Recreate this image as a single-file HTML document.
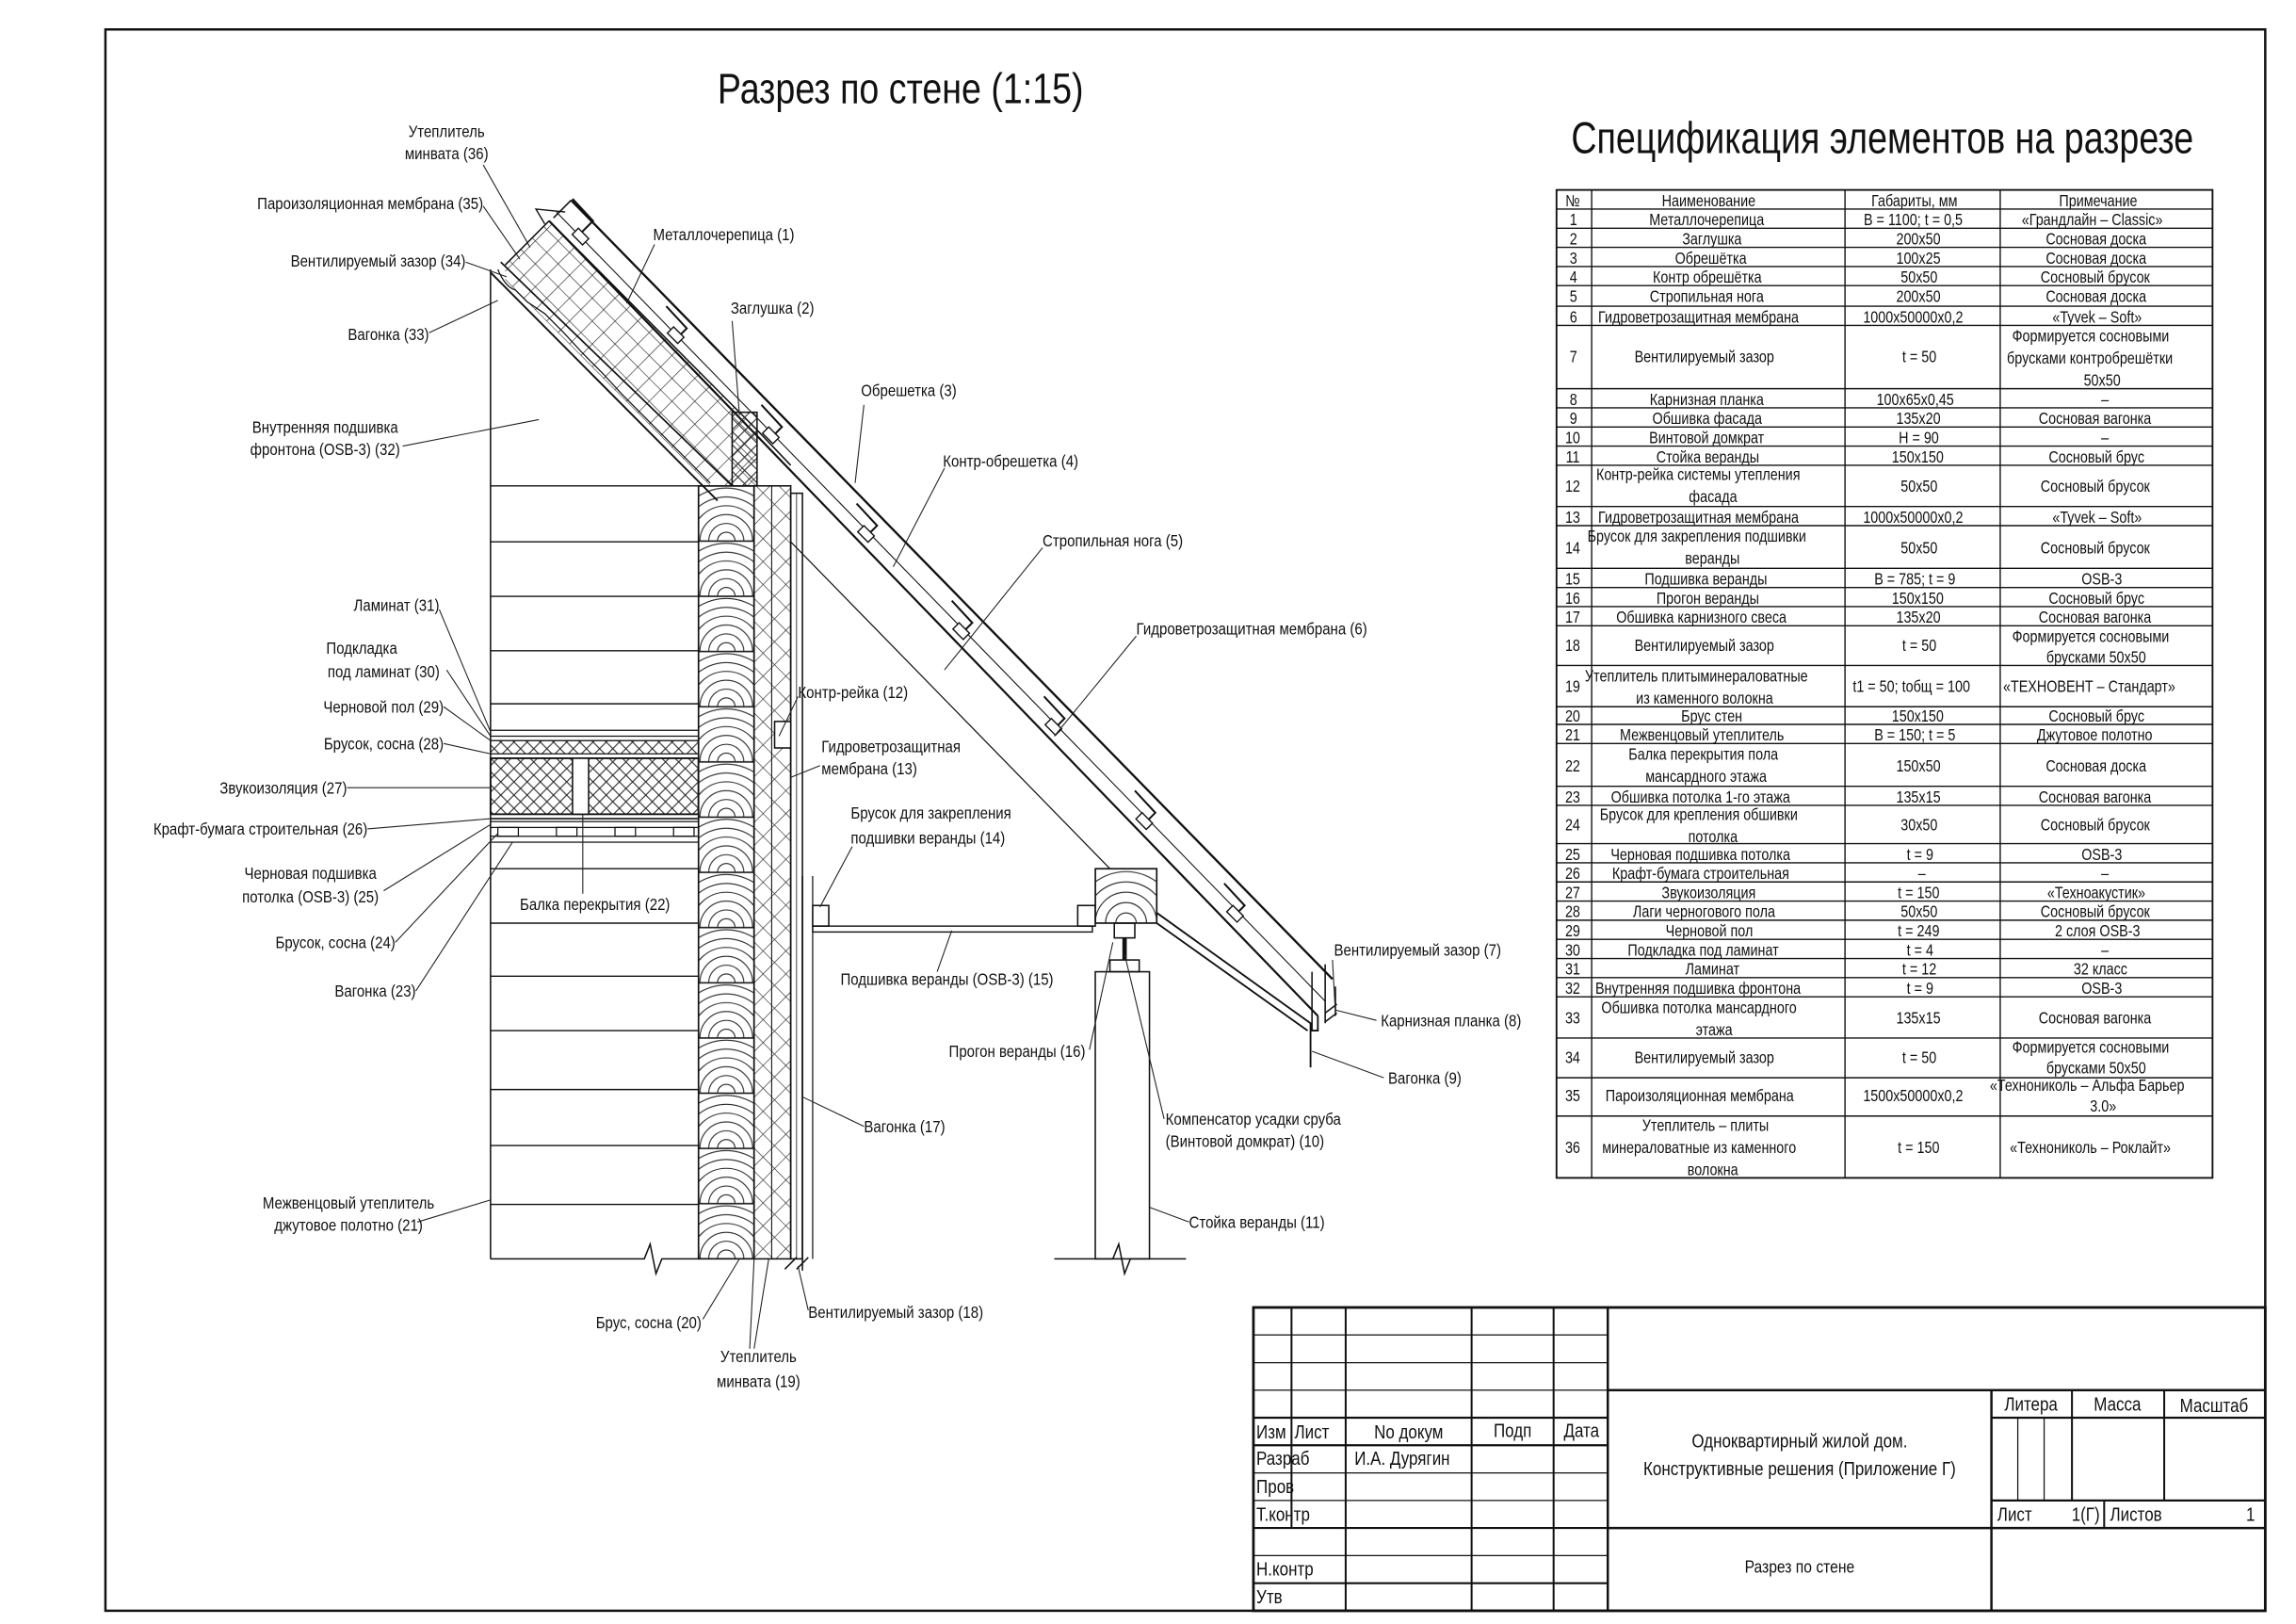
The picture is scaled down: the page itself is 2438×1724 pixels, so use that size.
<!DOCTYPE html>
<html><head><meta charset="utf-8"><style>
html,body{margin:0;padding:0;background:#fff}
svg{display:block}
text{font-family:"Liberation Sans",sans-serif;fill:#111;transform-box:fill-box;transform-origin:0% 50%;transform:scaleX(0.84)}
text[text-anchor="middle"]{transform-origin:50% 50%}
text[text-anchor="end"]{transform-origin:100% 50%}
text.nt{transform:none}
.l{font-size:11.5px}
.t{font-size:11px}
</style></head><body>
<svg width="2438" height="1724" viewBox="0 0 1568 1103" preserveAspectRatio="none" xmlns="http://www.w3.org/2000/svg">
<defs>
<pattern id="ch" patternUnits="userSpaceOnUse" width="9" height="9">
<path d="M0,0L9,9M9,0L0,9" stroke="#222" stroke-width="0.7"/>
</pattern>
<pattern id="grid" patternUnits="userSpaceOnUse" width="11" height="11" patternTransform="rotate(45)">
<path d="M0,0H11M0,0V11" stroke="#222" stroke-width="0.8"/>
</pattern>
<pattern id="log" patternUnits="userSpaceOnUse" x="477" y="330" width="38" height="37.5">
<rect x="0" y="0" width="38" height="37.5" fill="#fff" stroke="#111" stroke-width="1"/>
<g fill="none" stroke="#222" stroke-width="0.7">
<circle cx="19" cy="37.5" r="6"/><circle cx="19" cy="37.5" r="12"/><circle cx="19" cy="37.5" r="18"/><circle cx="19" cy="37.5" r="24"/><circle cx="19" cy="37.5" r="30"/><circle cx="19" cy="37.5" r="36"/>
</g>
</pattern>
<pattern id="log2" patternUnits="userSpaceOnUse" x="748" y="590" width="42" height="37">
<rect width="42" height="37" fill="#fff" stroke="#111"/>
<g fill="none" stroke="#222" stroke-width="0.7">
<circle cx="21" cy="37" r="7"/><circle cx="21" cy="37" r="14"/><circle cx="21" cy="37" r="21"/><circle cx="21" cy="37" r="28"/><circle cx="21" cy="37" r="35"/>
</g>
</pattern>
</defs>

<rect x="72" y="20" width="1475" height="1074" fill="none" stroke="#111" stroke-width="1.6"/>

<text class="nt" x="490" y="70" style="font-size:29px" textLength="250" lengthAdjust="spacingAndGlyphs">Разрез по стене (1:15)</text>
<text class="nt" x="1073" y="104" style="font-size:30px" textLength="425" lengthAdjust="spacingAndGlyphs">Спецификация элементов на разрезе</text>

<g stroke="#111" fill="none" stroke-width="1">
<line x1="335" y1="183" x2="335" y2="855"/>
<path d="M335,855H440l4,-10l4,20l4,-10H477"/>
<g stroke-width="0.9">
<line x1="335" y1="330" x2="477" y2="330"/>
<line x1="335" y1="368" x2="477" y2="368"/>
<line x1="335" y1="405" x2="477" y2="405"/>
<line x1="335" y1="442" x2="477" y2="442"/>
<line x1="335" y1="478" x2="477" y2="478"/>
<line x1="335" y1="590" x2="477" y2="590"/>
<line x1="335" y1="627" x2="477" y2="627"/>
<line x1="335" y1="663" x2="477" y2="663"/>
<line x1="335" y1="700" x2="477" y2="700"/>
<line x1="335" y1="740" x2="477" y2="740"/>
<line x1="335" y1="778" x2="477" y2="778"/>
<line x1="335" y1="818" x2="477" y2="818"/>
</g>
<rect x="335" y="496" width="142" height="4" stroke-width="0.8"/>
<rect x="335" y="500" width="142" height="3" stroke-width="0.6"/>
<rect x="335" y="503" width="142" height="9" stroke-width="0.8" fill="url(#ch)"/>
<rect x="335" y="515" width="142" height="38" fill="url(#ch)" stroke-width="1.2"/>
<rect x="391" y="515" width="11" height="38" fill="#fff"/>
<line x1="335" y1="556" x2="477" y2="556"/>
<rect x="335" y="558" width="142" height="4" stroke-width="0.8"/>
<path d="M340,562h14v6h-14zM380,562h14v6h-14zM420,562h14v6h-14zM460,562h14v6h-14z" stroke-width="0.8"/>
<rect x="335" y="568" width="142" height="4" stroke-width="0.8"/>
<rect x="477" y="330" width="38" height="525" fill="url(#log)"/>
<rect x="515" y="330" width="25" height="525" fill="url(#grid)"/>
<line x1="527" y1="330" x2="527" y2="855" stroke-width="0.7"/>
<rect x="540" y="335" width="8" height="520" stroke-width="1"/>
<line x1="544" y1="335" x2="544" y2="855" stroke-width="0.5"/>
<path d="M536,862l8,-8M544,862l8,-8M548,855v8" stroke-width="1"/>
<rect x="529" y="490" width="11" height="18" fill="#fff"/>
<line x1="548" y1="595" x2="548" y2="855"/>
<line x1="555" y1="595" x2="555" y2="855" stroke-width="0.8"/>
<rect x="555" y="615" width="11" height="14" fill="#fff"/>
<rect x="555" y="629" width="191" height="4" stroke-width="0.9"/>
<rect x="736" y="615" width="12" height="14"/>
<rect x="748" y="590" width="42" height="37" fill="url(#log2)"/>
<rect x="761" y="627" width="14" height="10"/>
<line x1="768" y1="637" x2="768" y2="652" stroke-width="3"/>
<rect x="758" y="652" width="20" height="8"/>
<rect x="748" y="660" width="37" height="195"/>
<path d="M720,855H760l4,-10l4,20l4,-10H810"/>
<line x1="540" y1="368" x2="758" y2="590" stroke-width="0.8"/>

<polygon points="345,180 375,150 517,292 517,330 500,330 485,330 345,190" fill="url(#grid)" stroke="none"/>
<line x1="375" y1="150" x2="517" y2="292" stroke-width="1"/>
<line x1="335" y1="185" x2="490" y2="340" stroke-width="1.2"/>
<line x1="342" y1="178" x2="500" y2="330" stroke-width="1.1"/>
<path d="M340,183 Q345,195 352,197 L360,205 L372,213 L385,226 L398,240 L412,254 L425,268 L440,283 L455,298 L470,313 L485,328" stroke-width="0.8"/>
<line x1="375" y1="150" x2="900" y2="690" stroke-width="1.4"/>
<line x1="380" y1="144" x2="905" y2="680" stroke-width="0.7"/>
<line x1="390" y1="136" x2="910" y2="665" stroke-width="1.5"/>
<line x1="378" y1="148" x2="390" y2="136" stroke-width="1"/>
<line x1="345" y1="180" x2="375" y2="150" stroke-width="1"/>
<path d="M391,135 l14,15 l-8,8 M455,208 l14,15 l-8,8 M520,275 l14,15 l-8,8 M585,342 l14,15 l-8,8 M650,408 l14,15 l-8,8 M713,473 l14,15 l-8,8 M775,537 l14,15 l-8,8 M836,600 l14,15 l-8,8" stroke-width="1.3"/>
<g fill="#fff" stroke-width="0.9">
<rect x="0" y="0" width="10" height="6" transform="translate(395,155) rotate(45)"/>
<rect x="0" y="0" width="10" height="6" transform="translate(460,222) rotate(45)"/>
<rect x="0" y="0" width="10" height="6" transform="translate(525,290) rotate(45)"/>
<rect x="0" y="0" width="10" height="6" transform="translate(590,357) rotate(45)"/>
<rect x="0" y="0" width="10" height="6" transform="translate(655,423) rotate(45)"/>
<rect x="0" y="0" width="10" height="6" transform="translate(718,488) rotate(45)"/>
<rect x="0" y="0" width="10" height="6" transform="translate(780,552) rotate(45)"/>
<rect x="0" y="0" width="10" height="6" transform="translate(842,615) rotate(45)"/>
</g>
<line x1="517" y1="292" x2="540" y2="316" stroke-width="1"/>
<rect x="500" y="280" width="17" height="50" fill="url(#ch)" stroke-width="1"/>
<path d="M790,620 L895,695 L895,725 M900,690 V700 L895,700 M790,627 L893,700" stroke-width="1.2"/>
<path d="M896,660 V700 M905,655 V695 M912,670 V690" stroke-width="1"/>
<path d="M905,688 l8,-6 M905,694 l8,-6" stroke-width="1"/>
<path d="M372,152 l-6,-10 l20,2" stroke-width="0.9"/>
</g>

<g stroke="#222" stroke-width="0.7" fill="none">
<path d="M330,112L362,168"/><path d="M330,140L355,176"/><path d="M318,178L346,188"/>
<path d="M293,226L340,204"/><path d="M275,303L368,285"/>
<path d="M447,166L428,206"/><path d="M500,218L505,282"/><path d="M590,275L584,328"/>
<path d="M645,318L610,385"/><path d="M712,372L645,455"/><path d="M776,432L720,500"/>
<path d="M545,473L532,500"/><path d="M560,520L540,528"/><path d="M582,575L560,616"/>
<path d="M398,607L398,553"/><path d="M640,660L650,632"/><path d="M744,713L760,640"/>
<path d="M795,760L768,648"/><path d="M812,830L785,820"/><path d="M590,765L548,745"/>
<path d="M552,890L545,860"/><path d="M480,896L505,855"/><path d="M515,916L525,855"/><path d="M512,916L515,855"/>
<path d="M285,830L335,815"/><path d="M300,414L335,497"/><path d="M305,455L335,500"/>
<path d="M303,480L335,503"/><path d="M303,505L335,512"/><path d="M237,535L335,535"/>
<path d="M251,563L335,556"/><path d="M262,605L335,560"/><path d="M270,640L340,566"/><path d="M284,673L350,572"/>
<path d="M910,652L912,688"/><path d="M940,693L912,686"/><path d="M945,732L896,714"/>
</g>
<g class="l">
<text x="305" y="93" text-anchor="middle">Утеплитель</text>
<text x="305" y="108" text-anchor="middle">минвата (36)</text>
<text x="330" y="142" text-anchor="end">Пароизоляционная мембрана (35)</text>
<text x="318" y="181" text-anchor="end">Вентилируемый зазор (34)</text>
<text x="293" y="231" text-anchor="end">Вагонка (33)</text>
<text x="222" y="294" text-anchor="middle">Внутренняя подшивка</text>
<text x="222" y="309" text-anchor="middle">фронтона (OSB-3) (32)</text>
<text x="446" y="163">Металлочерепица (1)</text>
<text x="499" y="213">Заглушка (2)</text>
<text x="588" y="269">Обрешетка (3)</text>
<text x="644" y="317">Контр-обрешетка (4)</text>
<text x="712" y="371">Стропильная нога (5)</text>
<text x="776" y="431">Гидроветрозащитная мембрана (6)</text>
<text x="545" y="474">Контр-рейка (12)</text>
<text x="561" y="511">Гидроветрозащитная</text>
<text x="561" y="526">мембрана (13)</text>
<text x="581" y="556">Брусок для закрепления</text>
<text x="581" y="573">подшивки веранды (14)</text>
<text x="355" y="618">Балка перекрытия (22)</text>
<text x="574" y="669">Подшивка веранды (OSB-3) (15)</text>
<text x="648" y="718">Прогон веранды (16)</text>
<text x="796" y="764">Компенсатор усадки сруба</text>
<text x="796" y="779">(Винтовой домкрат) (10)</text>
<text x="812" y="834">Стойка веранды (11)</text>
<text x="590" y="769">Вагонка (17)</text>
<text x="552" y="895">Вентилируемый зазор (18)</text>
<text x="443" y="902" text-anchor="middle">Брус, сосна (20)</text>
<text x="518" y="925" text-anchor="middle">Утеплитель</text>
<text x="518" y="942" text-anchor="middle">минвата (19)</text>
<text x="238" y="821" text-anchor="middle">Межвенцовый утеплитель</text>
<text x="238" y="836" text-anchor="middle">джутовое полотно (21)</text>
<text x="300" y="415" text-anchor="end">Ламинат (31)</text>
<text x="247" y="444" text-anchor="middle">Подкладка</text>
<text x="262" y="460" text-anchor="middle">под ламинат (30)</text>
<text x="303" y="484" text-anchor="end">Черновой пол (29)</text>
<text x="303" y="509" text-anchor="end">Брусок, сосна (28)</text>
<text x="237" y="539" text-anchor="end">Звукоизоляция (27)</text>
<text x="251" y="567" text-anchor="end">Крафт-бумага строительная (26)</text>
<text x="212" y="597" text-anchor="middle">Черновая подшивка</text>
<text x="212" y="613" text-anchor="middle">потолка (OSB-3) (25)</text>
<text x="270" y="644" text-anchor="end">Брусок, сосна (24)</text>
<text x="284" y="677" text-anchor="end">Вагонка (23)</text>
<text x="911" y="649">Вентилируемый зазор (7)</text>
<text x="943" y="697">Карнизная планка (8)</text>
<text x="948" y="736">Вагонка (9)</text>
</g>

<g stroke="#111" stroke-width="0.9" fill="none">
<rect x="1063" y="129" width="448" height="671" stroke-width="1.2"/>
<path d="M1087,129V800M1260,129V800M1366,129V800"/>
<path d="M1063,142H1511M1063,155H1511M1063,168H1511M1063,181H1511M1063,194H1511M1063,208H1511M1063,221H1511M1063,264H1511M1063,277H1511M1063,290H1511M1063,303H1511M1063,316H1511M1063,344H1511M1063,357H1511M1063,386H1511M1063,399H1511M1063,412H1511M1063,425H1511M1063,452H1511M1063,480H1511M1063,492H1511M1063,505H1511M1063,534H1511M1063,547H1511M1063,573H1511M1063,586H1511M1063,599H1511M1063,612H1511M1063,625H1511M1063,638H1511M1063,651H1511M1063,664H1511M1063,677H1511M1063,705H1511M1063,732H1511M1063,758H1511"/>
</g>
<g class="t" text-anchor="middle">
<text x="1075" y="140">№</text><text x="1173" y="140">Наименование</text><text x="1313" y="140">Габариты, мм</text><text x="1438" y="140">Примечание</text>
<text x="1075" y="153">1</text><text x="1173" y="153">Металлочерепица</text><text x="1313" y="153">B = 1100; t = 0,5</text><text x="1438" y="153">«Грандлайн – Classic»</text>
<text x="1075" y="166">2</text><text x="1173" y="166">Заглушка</text><text x="1313" y="166">200x50</text><text x="1438" y="166">Сосновая доска</text>
<text x="1075" y="179">3</text><text x="1173" y="179">Обрешётка</text><text x="1313" y="179">100x25</text><text x="1438" y="179">Сосновая доска</text>
<text x="1075" y="192">4</text><text x="1173" y="192">Контр обрешётка</text><text x="1313" y="192">50x50</text><text x="1438" y="192">Сосновый брусок</text>
<text x="1075" y="205">5</text><text x="1173" y="205">Стропильная нога</text><text x="1313" y="205">200x50</text><text x="1438" y="205">Сосновая доска</text>
<text x="1075" y="219">6</text><text x="1173" y="219">Гидроветрозащитная мембрана</text><text x="1313" y="219">1000x50000x0,2</text><text x="1438" y="219">«Tyvek – Soft»</text>
<text x="1075" y="246">7</text><text x="1173" y="246">Вентилируемый зазор</text><text x="1313" y="246">t = 50</text><text x="1438" y="232">Формируется сосновыми</text><text x="1438" y="247">брусками контробрешётки</text><text x="1438" y="262">50x50</text>
<text x="1075" y="275">8</text><text x="1173" y="275">Карнизная планка</text><text x="1313" y="275">100x65x0,45</text><text x="1438" y="275">–</text>
<text x="1075" y="288">9</text><text x="1173" y="288">Обшивка фасада</text><text x="1313" y="288">135x20</text><text x="1438" y="288">Сосновая вагонка</text>
<text x="1075" y="301">10</text><text x="1173" y="301">Винтовой домкрат</text><text x="1313" y="301">H = 90</text><text x="1438" y="301">–</text>
<text x="1075" y="314">11</text><text x="1173" y="314">Стойка веранды</text><text x="1313" y="314">150x150</text><text x="1438" y="314">Сосновый брус</text>
<text x="1075" y="334">12</text><text x="1173" y="326">Контр-рейка системы утепления</text><text x="1173" y="341">фасада</text><text x="1313" y="334">50x50</text><text x="1438" y="334">Сосновый брусок</text>
<text x="1075" y="355">13</text><text x="1173" y="355">Гидроветрозащитная мембрана</text><text x="1313" y="355">1000x50000x0,2</text><text x="1438" y="355">«Tyvek – Soft»</text>
<text x="1075" y="376">14</text><text x="1173" y="368">Брусок для закрепления подшивки</text><text x="1173" y="383">веранды</text><text x="1313" y="376">50x50</text><text x="1438" y="376">Сосновый брусок</text>
<text x="1075" y="397">15</text><text x="1173" y="397">Подшивка веранды</text><text x="1313" y="397">B = 785; t = 9</text><text x="1438" y="397">OSB-3</text>
<text x="1075" y="410">16</text><text x="1173" y="410">Прогон веранды</text><text x="1313" y="410">150x150</text><text x="1438" y="410">Сосновый брус</text>
<text x="1075" y="423">17</text><text x="1173" y="423">Обшивка карнизного свеса</text><text x="1313" y="423">135x20</text><text x="1438" y="423">Сосновая вагонка</text>
<text x="1075" y="442">18</text><text x="1173" y="442">Вентилируемый зазор</text><text x="1313" y="442">t = 50</text><text x="1438" y="436">Формируется сосновыми</text><text x="1438" y="450">брусками 50x50</text>
<text x="1075" y="470">19</text><text x="1173" y="463">Утеплитель плитыминераловатные</text><text x="1173" y="478">из каменного волокна</text><text x="1313" y="470">t1 = 50; tобщ = 100</text><text x="1438" y="470">«ТЕХНОВЕНТ – Стандарт»</text>
<text x="1075" y="490">20</text><text x="1173" y="490">Брус стен</text><text x="1313" y="490">150x150</text><text x="1438" y="490">Сосновый брус</text>
<text x="1075" y="503">21</text><text x="1173" y="503">Межвенцовый утеплитель</text><text x="1313" y="503">B = 150; t = 5</text><text x="1438" y="503">Джутовое полотно</text>
<text x="1075" y="524">22</text><text x="1173" y="516">Балка перекрытия пола</text><text x="1173" y="531">мансардного этажа</text><text x="1313" y="524">150x50</text><text x="1438" y="524">Сосновая доска</text>
<text x="1075" y="545">23</text><text x="1173" y="545">Обшивка потолка 1-го этажа</text><text x="1313" y="545">135x15</text><text x="1438" y="545">Сосновая вагонка</text>
<text x="1075" y="564">24</text><text x="1173" y="557">Брусок для крепления обшивки</text><text x="1173" y="572">потолка</text><text x="1313" y="564">30x50</text><text x="1438" y="564">Сосновый брусок</text>
<text x="1075" y="584">25</text><text x="1173" y="584">Черновая подшивка потолка</text><text x="1313" y="584">t = 9</text><text x="1438" y="584">OSB-3</text>
<text x="1075" y="597">26</text><text x="1173" y="597">Крафт-бумага строительная</text><text x="1313" y="597">–</text><text x="1438" y="597">–</text>
<text x="1075" y="610">27</text><text x="1173" y="610">Звукоизоляция</text><text x="1313" y="610">t = 150</text><text x="1438" y="610">«Техноакустик»</text>
<text x="1075" y="623">28</text><text x="1173" y="623">Лаги черногового пола</text><text x="1313" y="623">50x50</text><text x="1438" y="623">Сосновый брусок</text>
<text x="1075" y="636">29</text><text x="1173" y="636">Черновой пол</text><text x="1313" y="636">t = 249</text><text x="1438" y="636">2 слоя OSB-3</text>
<text x="1075" y="649">30</text><text x="1173" y="649">Подкладка под ламинат</text><text x="1313" y="649">t = 4</text><text x="1438" y="649">–</text>
<text x="1075" y="662">31</text><text x="1173" y="662">Ламинат</text><text x="1313" y="662">t = 12</text><text x="1438" y="662">32 класс</text>
<text x="1075" y="675">32</text><text x="1173" y="675">Внутренняя подшивка фронтона</text><text x="1313" y="675">t = 9</text><text x="1438" y="675">OSB-3</text>
<text x="1075" y="695">33</text><text x="1173" y="688">Обшивка потолка мансардного</text><text x="1173" y="703">этажа</text><text x="1313" y="695">135x15</text><text x="1438" y="695">Сосновая вагонка</text>
<text x="1075" y="722">34</text><text x="1173" y="722">Вентилируемый зазор</text><text x="1313" y="722">t = 50</text><text x="1438" y="715">Формируется сосновыми</text><text x="1438" y="729">брусками 50x50</text>
<text x="1075" y="748">35</text><text x="1173" y="748">Пароизоляционная мембрана</text><text x="1313" y="748">1500x50000x0,2</text><text x="1438" y="741">«Технониколь – Альфа Барьер</text><text x="1438" y="755">3.0»</text>
<text x="1075" y="783">36</text><text x="1173" y="768">Утеплитель – плиты</text><text x="1173" y="783">минераловатные из каменного</text><text x="1173" y="798">волокна</text><text x="1313" y="783">t = 150</text><text x="1438" y="783">«Технониколь – Роклайт»</text>
</g>

<g stroke="#111" fill="none">
<rect x="856" y="888" width="691" height="206" stroke-width="1.8"/>
<path d="M1098,888V1094" stroke-width="1.6"/>
<path d="M882,888V1038M919,888V1094M1005,888V1094M1061,888V1094" stroke-width="1.3"/>
<path d="M856,906.7H1098M856,925.5H1098M856,944.2H1098M856,1000.4H1098M856,1019.1H1098M856,1056.5H1098" stroke-width="0.8"/>
<path d="M856,962.9H1098M856,981.6H1098M856,1037.8H1098M856,1075.3H1098" stroke-width="1.4"/>
<path d="M1098,944.2H1547M1098,1037.8H1547" stroke-width="1.6"/>
<path d="M1360,944.2V1094" stroke-width="1.6"/>
<path d="M1360,962.9H1547M1360,1019.1H1547" stroke-width="1.4"/>
<path d="M1415,944.2V1019.1M1478,944.2V1019.1M1437,1019.1V1037.8" stroke-width="1.3"/>
<path d="M1378,962.9V1019.1M1396,962.9V1019.1" stroke-width="0.8"/>
</g>
<g style="font-size:13px">
<text x="858" y="977">Изм</text><text x="884" y="977">Лист</text><text x="962" y="977" text-anchor="middle">No докум</text><text x="1033" y="976" text-anchor="middle">Подп</text><text x="1080" y="976" text-anchor="middle">Дата</text>
<text x="858" y="995">Разраб</text><text x="925" y="995">И.А. Дурягин</text>
<text x="858" y="1014">Пров</text>
<text x="858" y="1033">Т.контр</text>
<text x="858" y="1070">Н.контр</text>
<text x="858" y="1089">Утв</text>
<text x="1229" y="983" text-anchor="middle">Одноквартирный жилой дом.</text>
<text x="1229" y="1002" text-anchor="middle">Конструктивные решения (Приложение Г)</text>
<text x="1229" y="1068" text-anchor="middle" style="font-size:12px">Разрез по стене</text>
<text x="1387" y="958" text-anchor="middle">Литера</text><text x="1446" y="958" text-anchor="middle">Масса</text><text x="1512" y="959" text-anchor="middle">Масштаб</text>
<text x="1364" y="1033">Лист</text><text x="1434" y="1033" text-anchor="end">1(Г)</text><text x="1441" y="1033">Листов</text><text x="1540" y="1033" text-anchor="end">1</text>
</g>
</svg>
</body></html>
